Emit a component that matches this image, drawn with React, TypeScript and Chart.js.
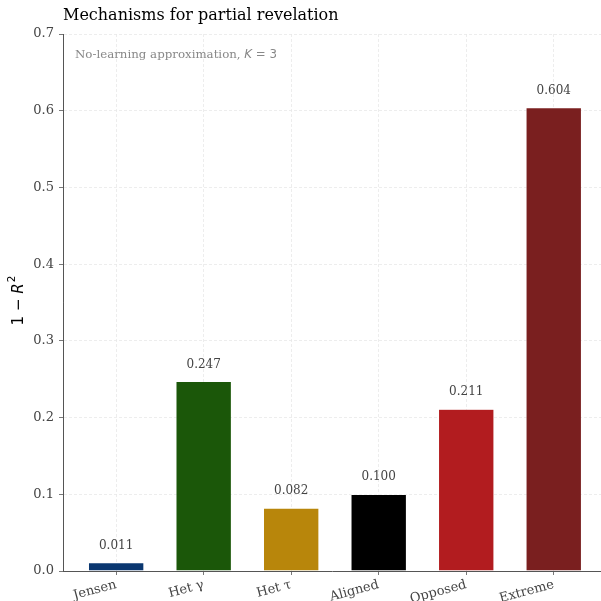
import React, { useEffect, useRef } from "react";
import { Chart, registerables } from "chart.js";

Chart.register(...registerables);

const categories = ["Jensen", "Het γ", "Het τ", "Aligned", "Opposed", "Extreme"];
const values = [0.011, 0.247, 0.082, 0.1, 0.211, 0.604];
const valueLabels = ["0.011", "0.247", "0.082", "0.100", "0.211", "0.604"];
const colors = ["#0a3770", "#1b5709", "#b8860b", "#000000", "#b21c1f", "#7a1f1f"];
const yTicks = [0, 0.1, 0.2, 0.3, 0.4, 0.5, 0.6, 0.7];

const SERIF = "'DejaVu Serif', serif";
const SANS = "'DejaVu Sans', sans-serif";

export default function App() {
  const ref = useRef<HTMLCanvasElement | null>(null);
  useEffect(() => {
    const canvas = ref.current!;
    const overlay = {
      id: "overlay",
      afterDatasetsDraw(chart: any) {
        const ctx = chart.ctx;
        const xs = chart.scales.x;
        const ys = chart.scales.y;
        ctx.save();
        // value labels
        ctx.font = `12px ${SERIF}`;
        ctx.fillStyle = "#444444";
        ctx.textAlign = "center";
        ctx.textBaseline = "middle";
        values.forEach((v, i) => {
          ctx.fillText(valueLabels[i], xs.getPixelForValue(i), ys.getPixelForValue(v) - 17);
        });
        // title
        ctx.font = `16px ${SERIF}`;
        ctx.fillStyle = "#000000";
        ctx.textAlign = "left";
        ctx.textBaseline = "middle";
        ctx.fillText("Mechanisms for partial revelation", chart.chartArea.left, 16);
        // annotation
        const ax = chart.chartArea.left + 12;
        const ay = 55;
        ctx.fillStyle = "#888888";
        ctx.font = `11.8px ${SERIF}`;
        const t1 = "No-learning approximation, ";
        ctx.fillText(t1, ax, ay);
        let cx = ax + ctx.measureText(t1).width;
        ctx.font = `italic 11.8px ${SANS}`;
        ctx.fillText("K", cx, ay);
        cx += ctx.measureText("K").width;
        ctx.font = `11.8px ${SANS}`;
        ctx.fillText(" = 3", cx, ay);
        // y axis label
        ctx.save();
        ctx.translate(19, 301);
        ctx.rotate(-Math.PI / 2);
        ctx.fillStyle = "#000000";
        const p1 = "1 − ";
        ctx.font = `15px ${SANS}`;
        const w1 = ctx.measureText(p1).width;
        ctx.font = `italic 15px ${SANS}`;
        const w2 = ctx.measureText("R").width;
        ctx.font = `10.5px ${SANS}`;
        const w3 = ctx.measureText("2").width;
        let sx = -(w1 + w2 + w3) / 2;
        ctx.textAlign = "left";
        ctx.textBaseline = "middle";
        ctx.font = `15px ${SANS}`;
        ctx.fillText(p1, sx, 0);
        sx += w1;
        ctx.font = `italic 15px ${SANS}`;
        ctx.fillText("R", sx, 0);
        sx += w2;
        ctx.font = `10.5px ${SANS}`;
        ctx.fillText("2", sx + 1, -6.5);
        ctx.restore();
        ctx.restore();
      },
    };
    const chart = new Chart(canvas, {
      type: "bar",
      data: {
        datasets: [
          {
            data: values.map((v, i) => ({ x: i, y: v })),
            backgroundColor: colors,
            borderColor: "rgba(255,255,255,0.5)",
            borderWidth: 0.6,
            barPercentage: 0.635,
            categoryPercentage: 1,
          },
        ],
      },
      options: {
        animation: false,
        responsive: false,
        maintainAspectRatio: false,
        layout: { padding: { top: 34, right: 0, left: 0, bottom: 0 } },
        plugins: {
          legend: { display: false },
          tooltip: { enabled: false },
          title: { display: false },
        },
        scales: {
          x: {
            type: "linear",
            offset: false,
            min: -0.6075,
            max: 5.54,
            afterBuildTicks: (scale: any) => {
              scale.ticks = categories.map((_, i) => ({ value: i }));
            },
            afterFit: (scale: any) => {
              scale.height = 30;
            },
            grid: {
              offset: false,
              color: "#e8e8e8",
              tickColor: "#555555",
              tickLength: 4,
              tickBorderDash: [],
              drawTicks: true,
              lineWidth: 0.8,
            },
            border: { display: true, color: "#555555", width: 1, dash: [3, 2] },
            ticks: {
              autoSkip: false,
              maxRotation: 15,
              minRotation: 15,
              padding: 2,
              color: "#444444",
              font: { family: SERIF, size: 13 },
              callback: (v: any) => categories[v as number] ?? "",
            },
          },
          y: {
            min: 0,
            max: 0.7,
            afterBuildTicks: (scale: any) => {
              scale.ticks = yTicks.map((v) => ({ value: v }));
            },
            afterFit: (scale: any) => {
              scale.width = 63;
            },
            grid: {
              color: "#e8e8e8",
              tickColor: "#555555",
              tickLength: 4,
              tickBorderDash: [],
              lineWidth: 0.8,
            },
            border: { display: true, color: "#555555", width: 1, dash: [3, 2] },
            ticks: {
              padding: 5,
              color: "#444444",
              font: { family: SERIF, size: 13 },
              callback: (v: any) => Number(v).toFixed(1),
            },
          },
        },
      },
      plugins: [overlay],
    });
    return () => chart.destroy();
  }, []);
  return (
    <div style={{ position: "fixed", left: 0, top: 0, width: 601, height: 601, background: "#fff" }}>
      <canvas ref={ref} width={601} height={601} style={{ width: 601, height: 601 }} />
    </div>
  );
}
